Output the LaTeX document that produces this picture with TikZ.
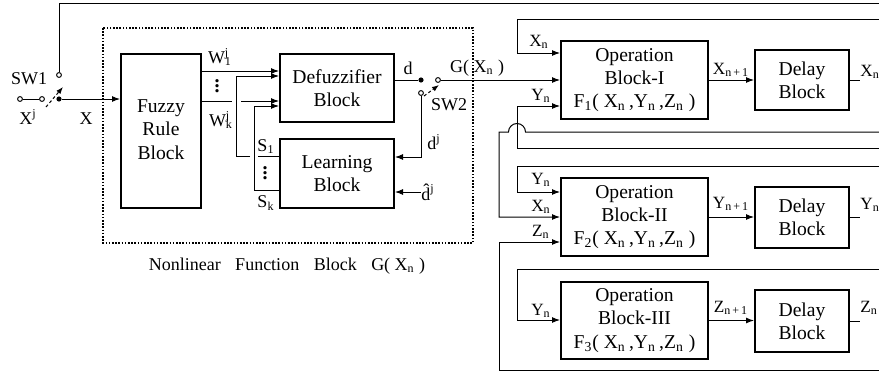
\documentclass[tikz,border=0pt]{standalone}
\usepackage{fontspec}
\setmainfont{Liberation Serif}
\usetikzlibrary{arrows.meta}
\newcommand{\sbx}[2]{#1\textsubscript{#2}}
\newcommand{\vdt}{\vbox{\baselineskip=2.6pt\lineskiplimit=-5pt\hbox{.}\hbox{.}\hbox{.}}}
\tikzset{
  blk/.style={draw, line width=1pt, align=center, inner sep=0pt, font=\fontsize{9.8}{11.7}\selectfont},
  lbl/.style={inner sep=0pt, font=\fontsize{9}{10}\selectfont},
  slbl/.style={inner sep=0pt, font=\fontsize{8.6}{9}\selectfont},
  vdot/.style={inner sep=0pt, font=\fontsize{10}{10}\bfseries},
  wire/.style={line width=0.5pt},
  arr/.style={wire, -{Latex[length=4pt, width=3pt]}},
  swarr/.style={wire, dash pattern=on 1.5pt off 1.2pt, -{Latex[length=3.5pt, width=2.6pt]}},
  opn/.style={circle, draw, fill=white, line width=0.5pt, inner sep=0pt, minimum size=2.4pt},
  dotn/.style={circle, fill, inner sep=0pt, minimum size=2.6pt},
}

\begin{document}
\begin{tikzpicture}[x=0.5pt, y=-0.5pt]
  \useasboundingbox (0,0) rectangle (879,375);
  \clip (0,0) rectangle (879,375);

  % nonlinear function block
  \draw[line width=0.9pt, dash pattern=on 0.8pt off 0.8pt] (103,28) rectangle (473,243);
  \node[lbl] (nfb) at (287,266) {Nonlinear\hspace{5pt} Function\hspace{5pt} Block\hspace{5pt} G( \sbx{X}{n} )};

  % blocks
  \node[blk, minimum width=40pt, minimum height=77pt] (fuzzy) at (161,131) {\mbox{}\\[-6.7pt]Fuzzy\\Rule\\Block};
  \node[blk, minimum width=57pt, minimum height=34pt] (defuzz) at (337,88) {Defuzzifier\\Block};
  \node[blk, minimum width=57pt, minimum height=34.5pt] (learn) at (337,173.5) {Learning\\Block};
  \node[blk, minimum width=73.5pt, minimum height=39pt] (op1) at (634.5,80) {Operation\\Block-I\\F\textsubscript{1}( \sbx{X}{n}\,,\sbx{Y}{n}\,,\sbx{Z}{n} )};
  \node[blk, minimum width=73.5pt, minimum height=39pt] (op2) at (634.5,217) {Operation\\Block-II\\F\textsubscript{2}( \sbx{X}{n}\,,\sbx{Y}{n}\,,\sbx{Z}{n} )};
  \node[blk, minimum width=73.5pt, minimum height=38.5pt] (op3) at (634.5,320.5) {Operation\\Block-III\\F\textsubscript{3}( \sbx{X}{n}\,,\sbx{Y}{n}\,,\sbx{Z}{n} )};
  \node[blk, minimum width=47pt, minimum height=30pt] (dl1) at (802,80) {Delay\\Block};
  \node[blk, minimum width=47pt, minimum height=30.5pt] (dl2) at (802,217.5) {Delay\\Block};
  \node[blk, minimum width=47pt, minimum height=31pt] (dl3) at (802,321) {Delay\\Block};

  % switch SW1
  \node[opn] (xin) at (20,99) {};
  \node[opn] (swa) at (42,99) {};
  \node[opn] (swb) at (59,75) {};
  \node[dotn] (swc) at (59,99) {};
  \draw[wire] (xin) -- (swa);
  \draw[swarr] (46,107) -- (63,87);
  \draw[arr] (swc) -- (swc -| fuzzy.west);
  \node[lbl] (sw1l) at (29,79) {SW1};
  \node[lbl] (xjl) at (28,117) {X\textsuperscript{j}};
  \node[lbl] (xl) at (86,119) {X};

  % off-picture ends on the right
  \coordinate (rtop) at (890,3);
  \coordinate (rx) at (890,19);
  \coordinate (rxx) at (890,132);
  \coordinate (ry1) at (890,148);
  \coordinate (ry2) at (890,166);
  \coordinate (ry3) at (890,269);
  \coordinate (rz) at (890,370);
  \draw[wire] (swb) -- (swb |- rtop) -- (rtop);

  % rule outputs and learning outputs
  \coordinate (w1) at (201,71);
  \coordinate (wkg) at (232,101);
  \coordinate (wkh) at (241,101);
  \coordinate (s1g) at (258,156);
  \coordinate (s1h) at (250,156);
  \coordinate (s1b) at (236,156);
  \coordinate (s1t) at (236,76);
  \coordinate (skb) at (254,190);
  \coordinate (skt) at (254,106);
  \draw[arr] (fuzzy.east |- w1) -- (w1 -| defuzz.west);
  \draw[wire] (fuzzy.east |- wkg) -- (wkg);
  \draw[arr] (wkh) -- (wkh -| defuzz.west);
  \draw[wire] (learn.west |- s1g) -- (s1g);
  \draw[arr] (s1h) -- (s1b) -- (s1t) -- (s1t -| defuzz.west);
  \draw[arr] (learn.west |- skb) -- (skb) -- (skt) -- (skt -| defuzz.west);
  \node[lbl] (w1l) at (220,57) {W\rlap{\textsuperscript{j}}\textsubscript{1}};
  \node[vdot] (wdots) at (217,86) {\vdt};
  \node[lbl] (wkl) at (221,120) {W\rlap{\textsuperscript{j}}\textsubscript{k}};
  \node[lbl] (s1l) at (266,147) {\sbx{S}{1}};
  \node[vdot] (sdots) at (265,173) {\vdt};
  \node[lbl] (skl) at (266,203) {\sbx{S}{k}};

  % switch SW2
  \node[dotn] (dn) at (421,80) {};
  \node[opn] (gn) at (438,80) {};
  \node[opn] (djn) at (421,93) {};
  \draw[wire] (defuzz.east |- dn) -- (dn);
  \draw[swarr] (424,96) -- (439,85);
  \node[lbl] (dlb) at (408,68) {d};
  \node[lbl] (sw2l) at (449,105) {SW2};
  \node[lbl] (gl) at (477,68) {G( \sbx{X}{n} )};
  \draw[arr] (gn) -- (gn -| op1.west);
  \coordinate (dj) at (421,157);
  \draw[arr] (djn) -- (dj) -- (dj -| learn.east);
  \node[lbl] (djl) at (434,142) {d\textsuperscript{j}};
  \node[lbl, anchor=west] (dhat) at (421,192) {\^{d}\textsuperscript{j}};
  \draw[arr] (dhat.west) -- (dhat.west -| learn.east);

  % feedback into the operation blocks
  \coordinate (xa) at (517,53);
  \coordinate (ya) at (517,106);
  \coordinate (yb) at (517,192);
  \coordinate (xb) at (499,217);
  \coordinate (zb) at (499,242);
  \coordinate (yc) at (517,320);
  \coordinate (hmp) at (525.5,132);
  \draw[arr] (rx) -- (xa |- rx) -- (xa) -- (xa -| op1.west);
  \draw[arr] (ry1) -- (ya |- ry1) -- (ya) -- (ya -| op1.west);
  \draw[arr] (ry2) -- (yb |- ry2) -- (yb) -- (yb -| op2.west);
  \draw[arr] (rxx) -- (hmp) arc[start angle=0, end angle=-180, radius=8.5] -- (xb |- rxx) -- (xb) -- (xb -| op2.west);
  \draw[arr] (rz) -- (zb |- rz) -- (zb) -- (zb -| op2.west);
  \draw[arr] (ry3) -- (yc |- ry3) -- (yc) -- (yc -| op3.west);
  \node[slbl] (x1in) at (539,42) {\sbx{X}{n}};
  \node[slbl] (y1in) at (541,96) {\sbx{Y}{n}};
  \node[slbl] (y2in) at (541,180) {\sbx{Y}{n}};
  \node[slbl] (x2in) at (541,207) {\sbx{X}{n}};
  \node[slbl] (z2in) at (541,232) {\sbx{Z}{n}};
  \node[slbl] (y3in) at (541,311) {\sbx{Y}{n}};

  % operation to delay
  \draw[arr] (op1.east) -- (op1.east -| dl1.west);
  \draw[arr] (op2.east) -- (op2.east -| dl2.west);
  \draw[arr] (op3.east) -- (op3.east -| dl3.west);
  \node[slbl] (x1o) at (731,70) {\sbx{X}{n\,+\,1}};
  \node[slbl] (y1o) at (731,204) {\sbx{Y}{n\,+\,1}};
  \node[slbl] (z1o) at (731,308) {\sbx{Z}{n\,+\,1}};

  % delay outputs
  \node[slbl, anchor=west] (xo) at (860,72) {\sbx{X}{n}};
  \node[slbl, anchor=west] (yo) at (860,205) {\sbx{Y}{n}};
  \node[slbl, anchor=west] (zo) at (860,308) {\sbx{Z}{n}};
  \draw[wire] (dl1.east) -- (dl1.east -| xo.west);
  \draw[wire] (dl2.east) -- (dl2.east -| yo.west);
  \draw[wire] (dl3.east) -- (dl3.east -| zo.west);
\end{tikzpicture}
\end{document}
